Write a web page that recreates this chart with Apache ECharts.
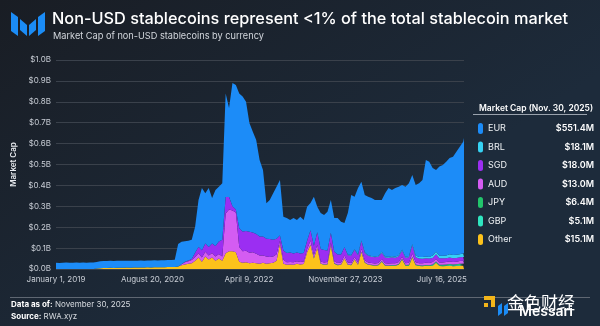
<!DOCTYPE html>
<html><head><meta charset="utf-8">
<script src="https://cdn.jsdelivr.net/npm/echarts@6/dist/echarts.min.js"></script>
<style>html,body{margin:0;padding:0;background:#1b222c}#c{width:600px;height:326px}</style>
</head><body><div id="c"></div>
<script>
// ---- Data (USD millions) ----
const startDate = '2019-01-01';
const endDate = '2025-11-30';
const stepDays = 21; // sampling grid of the series (last point = endDate)
const xTickLabels = ['January 1, 2019', 'August 20, 2020', 'April 9, 2022', 'November 27, 2023', 'July 16, 2025'];
const xTickStepDays = 597;
const yTickLabels = ['$0.0B', '$0.1B', '$0.2B', '$0.3B', '$0.4B', '$0.5B', '$0.6B', '$0.7B', '$0.8B', '$0.9B', '$1.0B'];
const seriesNames = ['EUR', 'BRL', 'SGD', 'AUD', 'JPY', 'GBP', 'Other'];
const latestValues = ['$551.4M', '$18.1M', '$18.0M', '$13.0M', '$6.4M', '$5.1M', '$15.1M'];

const eur = [30,29,30,31,30,30,31,30,31,30,31,31,
  31,33,33,33,33,33,33,33,34,32,34,33,
  33,34,33,33,34,34,33,34,34,34,34,34,
  108,107,98,94,92,124,225,297,241,282,218,268,
  262,270,495,425,590,595,645,645,618,520,482,449,
  367,319,170,187,223,249,266,162,167,155,170,155,
  176,158,163,130,235,122,172,167,186,156,162,175,
  157,116,199,287,251,318,282,274,280,278,271,268,
  247,303,328,317,328,328,310,335,349,331,338,352,
  369,462,455,418,392,427,435,449,461,470,493,514,
  535,551.4];
const brl = [0,0,0,0,0,0,0,0,0,0,0,0,
  0,0,0,0,0,0,0,0,0,0,0,0,
  0,0,0,0,0,0,0,0,0,0,0,0,
  0,0,0,0,0,0,0,0,0,0,0,0,
  0,0,0,0,0,0,0,0,0,0,0,0,
  0,0,0,0,0,0,0,0,0,0,0,0,
  0,0,0,0,0,0,0,0,0,0,0,0,
  0,0,3,3,3,3,3,3,3,3,3,3,
  5,5,5,5,5,5,5,5,5,5,8,8,
  8,8,8,12,12,12,12,12,15,15,15,15,
  17,18.1];
const sgd = [0,0,0,0,0,0,0,0,0,0,0,0,
  0,0,0,0,0,0,0,0,0,0,0,0,
  0,0,0,0,0,0,0,0,0,0,0,0,
  0,0,3,4,5,20,30,35,40,40,45,50,
  60,80,80,60,20,15,90,95,95,100,95,95,
  90,90,85,85,80,75,25,43,45,45,42,42,
  40,40,40,50,45,60,60,60,55,47,45,40,
  38,40,35,35,35,35,36,35,32,30,30,30,
  30,28,28,28,27,27,28,26,26,40,24,22,
  22,22,21,20,22,20,20,19,19,18,18,18,
  18,18.0];
const aud = [0,0,0,0,0,0,0,0,0,0,0,0,
  0,0,0,0,0,0,0,0,0,0,0,0,
  0,0,0,0,0,0,0,0,0,0,0,0,
  0,5,10,12,15,18,20,20,22,20,22,20,
  22,20,190,200,195,190,70,55,55,50,50,45,
  40,35,35,30,30,30,15,20,12,12,12,12,
  12,12,15,20,15,15,10,10,10,15,10,9,
  9,12,9,9,10,9,15,10,9,9,9,9,
  10,9,9,9,9,10,10,9,10,15,10,10,
  10,11,11,11,12,11,11,12,12,12,12,13,
  13,13.0];
const jpy = [0,0,0,0,0,0,0,0,0,0,0,0,
  0,0,0,0,0,0,0,0,0,0,0,0,
  0,0,0,0,0,0,0,0,0,0,0,0,
  0,0,0,0,0,0,0,0,0,0,0,0,
  0,0,0,0,0,0,0,0,0,0,0,0,
  0,0,0,0,0,0,0,0,0,0,0,0,
  0,0,0,0,0,0,0,0,0,1,1,1,
  1,1,1,1,1,1,1,1,1,1,1,1,
  1,1,1,1,1,2,2,2,2,2,2,2,
  2,2,2,3,3,3,4,4,5,5,5,6,
  6,6.4];
const gbp = [0,0,0,0,0,0,0,0,0,0,0,0,
  0,0,0,0,0,0,0,0,0,0,0,0,
  0,0,0,0,0,0,0,0,0,0,0,0,
  0,0,0,0,0,0,0,0,0,0,0,0,
  0,0,0,0,0,0,0,0,0,0,0,0,
  0,0,0,0,0,0,0,0,0,0,0,0,
  0,0,0,1,1,1,1,1,1,1,1,1,
  1,1,1,1,1,1,1,1,1,1,1,1,
  2,2,2,2,2,2,2,2,2,2,2,2,
  2,2,2,3,3,3,3,3,4,4,4,4,
  5,5.1];
const other = [0,0,0,0,0,0,0,0,0,0,0,0,
  2,4,5,5,6,5,6,6,6,7,6,7,
  7,7,7,8,7,8,8,8,8,9,9,10,
  12,18,22,25,28,40,55,35,60,45,55,40,
  50,40,75,85,85,80,35,30,32,28,30,28,
  25,30,25,28,30,40,120,25,20,22,20,25,
  22,24,80,115,50,100,25,20,22,110,25,18,
  20,50,20,18,45,20,80,30,20,18,15,18,
  35,15,14,16,15,20,45,15,16,55,18,14,
  13,15,14,16,30,14,13,14,15,13,14,15,
  15,15.1];

// ---- Build ----
const DAY = 86400000;
const t0 = Date.parse(startDate + 'T00:00:00Z');
const tEnd = Date.parse(endDate + 'T00:00:00Z');
const lastDay = Math.round((tEnd - t0) / DAY);
const n = eur.length;
const times = [];
for (let i = 0; i < n; i++) times.push(i === n - 1 ? tEnd : t0 + i * stepDays * DAY);

const seriesData = {EUR: eur, BRL: brl, SGD: sgd, AUD: aud, JPY: jpy, GBP: gbp, Other: other};
const colors = {EUR: '#1c8cf8', BRL: '#36d2f4', SGD: '#9b2ef2', AUD: '#d45cf2', JPY: '#22c56c', GBP: '#2fe6c0', Other: '#fcc21b'};
const stackOrder = ['Other', 'GBP', 'JPY', 'AUD', 'SGD', 'BRL', 'EUR'];
const FONT = 'Inter, "Noto Sans", sans-serif';

const series = stackOrder.map(name => ({
  name, type: 'line', stack: 'total', symbol: 'none', showSymbol: false,
  xAxisIndex: 0,
  lineStyle: {width: 0}, areaStyle: {color: colors[name], opacity: 1},
  itemStyle: {color: colors[name]}, emphasis: {disabled: true},
  data: seriesData[name].map((v, i) => [times[i], v])
}));

const chart = echarts.init(document.getElementById('c'));
chart.setOption({
  animation: false,
  backgroundColor: new echarts.graphic.LinearGradient(0, 0, 0.35, 1, [
    {offset: 0, color: '#191d24'}, {offset: 1, color: '#1d2b3b'}]),
  textStyle: {fontFamily: FONT},
  grid: {left: 56, top: 60, width: 408, height: 209, containLabel: false},
  xAxis: [{
    type: 'time', min: t0, max: tEnd,
    axisLine: {show: false}, axisTick: {show: false}, splitLine: {show: false},
    axisLabel: {show: false}
  }, {
    // label axis: days since start, ticks every 597 days
    type: 'value', position: 'bottom', min: 0, max: lastDay, interval: xTickStepDays,
    axisLine: {show: false}, axisTick: {show: false}, splitLine: {show: false},
    axisLabel: {color: '#c9ced6', fontSize: 8, margin: 7, fontFamily: FONT, showMaxLabel: false,
      formatter: v => { const k = v / xTickStepDays; return Number.isInteger(k) && xTickLabels[k] ? xTickLabels[k] : ''; }}
  }],
  yAxis: {
    type: 'value', min: 0, max: 1000, interval: 100,
    axisLine: {show: false}, axisTick: {show: false},
    splitLine: {lineStyle: {color: '#3a414b', width: 1}},
    axisLabel: {color: '#c9ced6', fontSize: 8, margin: 5, fontFamily: FONT,
      formatter: v => yTickLabels[Math.round(v / 100)]},
    name: 'Market Cap', nameLocation: 'middle', nameGap: 37, nameRotate: 90,
    nameTextStyle: {color: '#e8ebef', fontSize: 8, fontWeight: 600, fontFamily: FONT}
  },
  legend: {
    orient: 'vertical', left: 473, top: 118, itemWidth: 5, itemHeight: 11, itemGap: 7.5,
    icon: 'path://M2.5,0 A2.5,2.5 0 0 1 5,2.5 L5,8.5 A2.5,2.5 0 0 1 2.5,11 A2.5,2.5 0 0 1 0,8.5 L0,2.5 A2.5,2.5 0 0 1 2.5,0 Z',
    data: seriesNames, selectedMode: false,
    formatter: name => `{n|${name}}{v|${latestValues[seriesNames.indexOf(name)]}}`,
    textStyle: {color: '#fff', rich: {
      n: {width: 70, fontSize: 9, color: '#eef1f4', fontFamily: FONT, lineHeight: 11},
      v: {width: 36, align: 'right', fontSize: 9, fontWeight: 600, color: '#ffffff', fontFamily: FONT, lineHeight: 11}
    }}
  },
  graphic: [
    // logo
    {type: 'polygon', shape: {points: [[11, 12], [18, 17], [18, 36], [11, 31]]}, style: {fill: '#1b8cf6'}},
    {type: 'polygon', shape: {points: [[20, 19], [27, 25], [27, 36], [20, 30]]}, style: {fill: '#1b8cf6'}},
    {type: 'polygon', shape: {points: [[29, 25], [36, 19], [36, 30], [29, 36]]}, style: {fill: '#1b8cf6'}},
    {type: 'polygon', shape: {points: [[38, 17], [45, 12], [45, 31], [38, 36]]}, style: {fill: '#1b8cf6'}},
    // titles
    {type: 'text', left: 52, top: 11, style: {text: 'Non-USD stablecoins represent <1% of the total stablecoin market', fill: '#ffffff', font: '500 16.3px ' + FONT}},
    {type: 'text', left: 53, top: 32, style: {text: 'Market Cap of non-USD stablecoins by currency', fill: '#d3d7dd', font: '9.2px ' + FONT}},
    // legend header
    {type: 'text', left: 479, top: 104, style: {text: 'Market Cap (Nov. 30, 2025)', fill: '#ffffff', font: '600 8.5px ' + FONT}},
    {type: 'line', shape: {x1: 473, y1: 114.5, x2: 587, y2: 114.5}, style: {stroke: '#9aa2ad', lineWidth: 1}},
    // footer
    {type: 'line', shape: {x1: 10, y1: 297.5, x2: 590, y2: 297.5}, style: {stroke: '#5f6772', lineWidth: 1}},
    {type: 'text', left: 11, top: 301, style: {text: '{b|Data as of:} November 30, 2025', fill: '#d8dce1', font: '8px ' + FONT, rich: {b: {fontWeight: 700, fill: '#ffffff', fontSize: 8, fontFamily: FONT}}}},
    {type: 'text', left: 11, top: 313, style: {text: '{b|Source:} RWA.xyz', fill: '#d8dce1', font: '8px ' + FONT, rich: {b: {fontWeight: 700, fill: '#ffffff', fontSize: 8, fontFamily: FONT}}}},
    // watermark
    {type: 'rect', shape: {x: 484, y: 296, width: 11, height: 4}, style: {fill: '#f3b51a'}},
    {type: 'rect', shape: {x: 491, y: 296, width: 4, height: 11}, style: {fill: '#f3b51a'}},
    {type: 'rect', shape: {x: 484, y: 303, width: 4, height: 4}, style: {fill: '#f3b51a'}},
    {type: 'polygon', shape: {points: [[498, 306], [502, 303], [502, 313], [498, 316]]}, style: {fill: '#1b8cf6'}},
    {type: 'polygon', shape: {points: [[504, 306], [508, 303], [508, 313], [504, 316]]}, style: {fill: '#1b8cf6'}},
    {type: 'text', left: 507, top: 294, style: {text: '金色财经', fill: '#ffffff', font: '17px "Noto Sans CJK SC"'}},
    {type: 'text', left: 519, top: 305, style: {text: 'Messari', fill: '#ffffff', font: '600 14px ' + FONT}}
  ],
  series
});
</script>
</body></html>
